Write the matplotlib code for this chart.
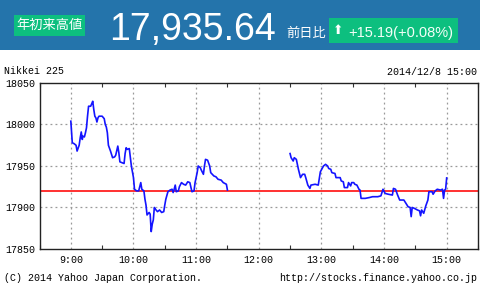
import numpy as np
import matplotlib
matplotlib.use('Agg')
from matplotlib import pyplot as plt
from matplotlib.patches import Rectangle

# 前場 (minutes after 9:00, price)
am_min = [0, 1.4, 3, 5, 6, 8, 9, 10, 11, 11.5, 13, 14, 15, 16, 17, 19, 20, 21, 22, 23,
          24, 25, 26, 27, 30, 32, 33, 34, 35, 36, 38, 40, 42, 43, 45, 46, 47, 51, 52, 53,
          54, 56, 58, 60, 61, 63, 65, 66, 67, 68, 70, 71, 72, 73, 75, 76, 77, 78, 79, 80,
          81, 83, 85, 87, 89, 90, 91, 93, 95, 97, 98, 99, 100, 101, 103, 104, 106, 108, 110, 112,
          114, 116, 118, 119, 121, 122, 124, 125, 127, 128, 129, 131, 133, 134, 137, 139, 141, 144, 146, 149,
          150]
am_val = [18004, 17978, 17977, 17975, 17968, 17975, 17984, 17991, 17982, 17986, 17985, 17990, 17996, 18010, 18022, 18022, 18025, 18028, 18018, 18010,
          18008, 18003, 18008, 18010, 18010, 18007, 18000, 17997, 17990, 17975, 17968, 17960, 17961, 17963, 17974, 17966, 17955, 17953, 17965, 17972,
          17970, 17971, 17950, 17936, 17922, 17920, 17920, 17925, 17930, 17922, 17920, 17910, 17903, 17891, 17894, 17892, 17871, 17880, 17885, 17900,
          17898, 17895, 17897, 17894, 17895, 17903, 17910, 17919, 17921, 17922, 17918, 17922, 17927, 17919, 17920, 17925, 17930, 17928, 17927, 17931,
          17930, 17919, 17920, 17930, 17942, 17950, 17948, 17945, 17940, 17950, 17958, 17957, 17950, 17942, 17938, 17937, 17934, 17933, 17930, 17928,
          17921]

# 後場
pm_min = [210, 211, 213, 214, 216, 217, 218, 220, 222, 224, 225, 227, 229, 230, 234, 237, 239, 242, 244, 246,
          247, 249, 250, 253, 254, 258, 259, 261, 262, 265, 266, 268, 269, 271, 272, 274, 276, 277, 278, 282,
          286, 289, 294, 297, 299, 301, 304, 308, 309, 311, 313, 315, 319, 321, 323, 325, 326, 327, 329, 332,
          334, 335, 336, 338, 340, 342, 343, 346, 347, 349, 351, 354, 356, 357, 358, 359, 360]
pm_val = [17965, 17960, 17956, 17960, 17958, 17952, 17946, 17936, 17940, 17940, 17936, 17927, 17923, 17927, 17928, 17927, 17943, 17950, 17952, 17950,
          17947, 17946, 17942, 17941, 17936, 17936, 17932, 17931, 17924, 17924, 17930, 17926, 17930, 17930, 17928, 17927, 17922, 17921, 17911, 17911,
          17912, 17913, 17913, 17914, 17922, 17917, 17916, 17915, 17923, 17922, 17915, 17909, 17909, 17905, 17901, 17900, 17889, 17900, 17899, 17897,
          17896, 17890, 17897, 17893, 17902, 17909, 17919, 17919, 17916, 17920, 17922, 17921, 17922, 17911, 17921, 17922, 17935.64]

prev_close = 17920.45
yticks = [17850, 17900, 17950, 18000, 18050]
xticks = [9, 10, 11, 12, 13, 14, 15]
xlabels = ['9:00', '10:00', '11:00', '12:00', '13:00', '14:00', '15:00']

W, H = 480, 290
fig = plt.figure(figsize=(W / 100, H / 100), dpi=100)

def fx(x):
    return x / W

def fy(y):
    return 1 - y / H

# ヘッダー
fig.patches.append(Rectangle((0, fy(50)), 1, 50 / H, transform=fig.transFigure,
                             facecolor='#2474ab', edgecolor='none'))
fig.patches.append(Rectangle((fx(14), fy(35.5)), 71 / W, 20 / H, transform=fig.transFigure,
                             facecolor='#0dbf7f', edgecolor='none'))
fig.patches.append(Rectangle((fx(329), fy(43)), 129 / W, 25 / H, transform=fig.transFigure,
                             facecolor='#0dbf7f', edgecolor='none'))
fig.text(fx(49.5), fy(25.5), '年初来高値', color='white', fontsize=9.5,
         family=['Noto Sans CJK JP', 'DejaVu Sans'], ha='center', va='center')
fig.text(fx(109), fy(40), '17,935.64', color='white', fontsize=27,
         family='Liberation Sans', ha='left', va='baseline')
fig.text(fx(286), fy(37), '前日比', color='white', fontsize=9.5,
         family=['Noto Sans CJK JP', 'DejaVu Sans'], ha='left', va='baseline')
fig.text(fx(338.5), fy(30.5), '⬆', color='white', fontsize=9,
         family='DejaVu Sans', ha='center', va='center')
fig.text(fx(348), fy(36.5), '+15.19(+0.08%)', color='#f4fff8', fontsize=10.5,
         family='Liberation Sans', ha='left', va='baseline')

mono = 'Liberation Mono'
fig.text(fx(4), fy(74), 'Nikkei 225', fontsize=7.2, family=mono, ha='left', va='baseline')
fig.text(fx(477), fy(75), '2014/12/8 15:00', fontsize=7.2, family=mono, ha='right', va='baseline')
fig.text(fx(4), fy(281), '(C) 2014 Yahoo Japan Corporation.', fontsize=7.2, family=mono,
         ha='left', va='baseline')
fig.text(fx(477), fy(281), 'http://stocks.finance.yahoo.co.jp', fontsize=7.2, family=mono,
         ha='right', va='baseline')

# チャート
ax = fig.add_axes([fx(39.5), fy(249), (478 - 39.5) / W, (249 - 83) / H])
t_am = 9 + np.array(am_min) / 60
t_pm = 9 + np.array(pm_min) / 60
ax.plot(t_am, am_val, color='#1414ff', lw=1.2, zorder=3)
ax.plot(t_pm, pm_val, color='#1414ff', lw=1.2, zorder=3)
ax.axhline(prev_close, color='#ff3030', lw=1.4, zorder=2)

ax.set_xlim(8.51, 15.49)
ax.set_ylim(17850, 18050)
ax.set_xticks(xticks)
ax.set_xticklabels(xlabels)
ax.set_xticks(np.arange(8.5, 15.6, 0.5), minor=True)
ax.set_yticks(yticks)
for lab in ax.get_xticklabels() + ax.get_yticklabels():
    lab.set_family(mono)
    lab.set_fontsize(7.2)

ax.tick_params(axis='both', which='both', direction='in', top=True, right=True,
               length=3, width=0.8, color='#333333')
ax.tick_params(axis='x', which='major', pad=4)
ax.tick_params(axis='y', which='major', pad=3)
ax.tick_params(axis='both', which='major', length=0)

for x in xticks:
    ax.axvline(x, color='#999999', lw=0.9, ls=(0, (1.5, 2.5)), zorder=1)
for y in yticks[1:-1]:
    ax.axhline(y, color='#999999', lw=0.9, ls=(0, (1.5, 2.5)), zorder=1)
for s in ax.spines.values():
    s.set_color('#222222')
    s.set_linewidth(1.0)

fig.savefig('out.png', dpi=100)
